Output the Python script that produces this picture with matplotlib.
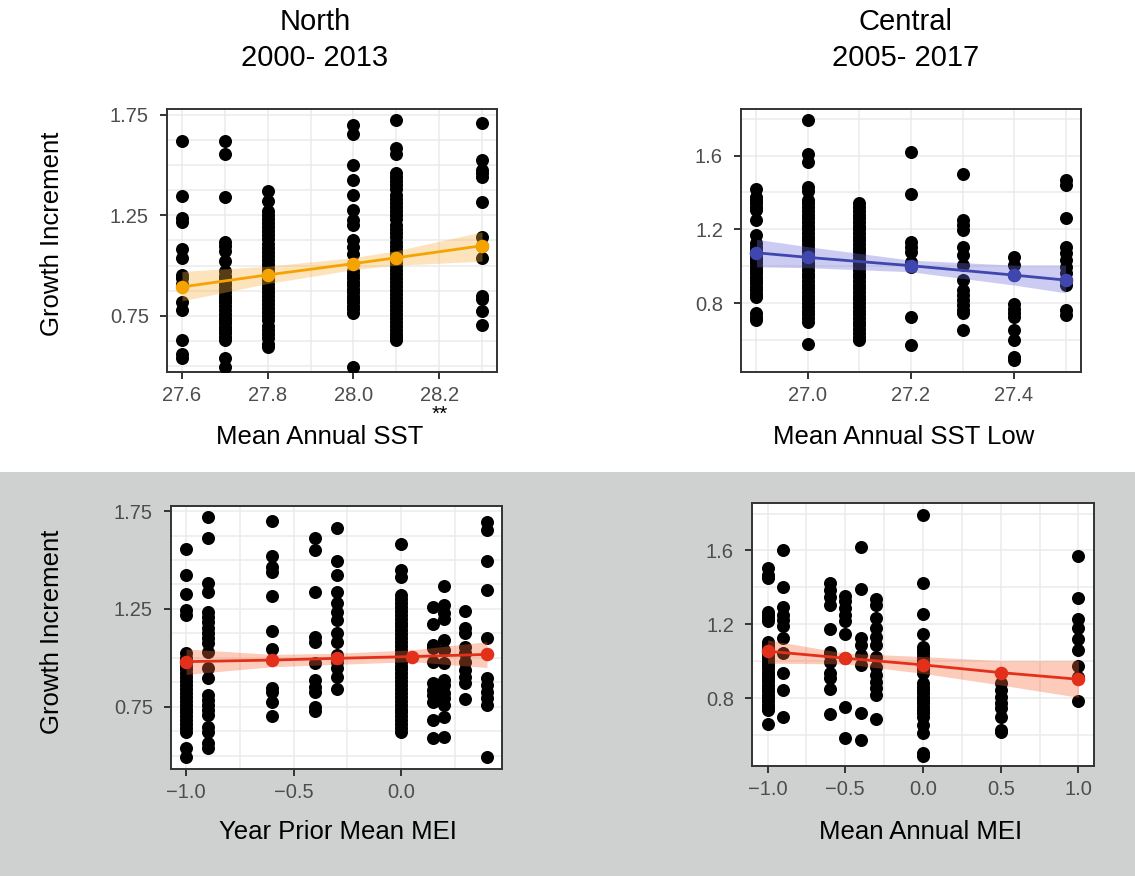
import matplotlib
matplotlib.use("Agg")
import matplotlib.pyplot as plt
from matplotlib.patches import Rectangle

plt.rcParams['font.family'] = ['Liberation Sans', 'DejaVu Sans']

W, H = 1135, 876

# --- North, mean annual SST ---
north_sst_x = [27.6, 27.7, 27.8, 28.0, 28.1, 28.3]
north_sst_growth = [
    [1.62, 1.344, 1.236, 1.219, 1.082, 1.039, 0.954, 0.937, 0.91, 0.817, 0.779, 0.628, 0.56, 0.54],
    [1.618, 1.557, 1.339, 1.116, 1.099, 1.074, 1.022, 0.971, 0.95, 0.937, 0.92, 0.902, 0.885, 0.868, 0.85,
     0.834, 0.817, 0.8, 0.78, 0.757, 0.74, 0.731, 0.715, 0.697, 0.68, 0.663, 0.645, 0.628, 0.543, 0.495],
    [1.373, 1.322, 1.27, 1.25, 1.23, 1.21, 1.19, 1.17, 1.15, 1.13, 1.11, 1.09, 1.07, 1.05, 1.03, 1.01,
     0.99, 0.97, 0.95, 0.93, 0.91, 0.89, 0.87, 0.85, 0.83, 0.81, 0.79, 0.77, 0.75, 0.73, 0.70, 0.68,
     0.66, 0.64, 0.61, 0.594],
    [1.699, 1.656, 1.502, 1.428, 1.351, 1.279, 1.228, 1.202, 1.125, 1.091, 1.057, 0.971, 0.954, 0.937,
     0.92, 0.902, 0.885, 0.868, 0.851, 0.834, 0.817, 0.8, 0.782, 0.765, 0.495],
    [1.724, 1.587, 1.553, 1.459, 1.44, 1.42, 1.40, 1.38, 1.35, 1.33, 1.31, 1.29, 1.27, 1.25, 1.23, 1.20,
     1.18, 1.16, 1.14, 1.12, 1.10, 1.08, 1.06, 1.04, 1.02, 1.0, 0.98, 0.96, 0.94, 0.92, 0.90, 0.88,
     0.86, 0.84, 0.82, 0.80, 0.78, 0.76, 0.74, 0.72, 0.70, 0.68, 0.66, 0.645, 0.628],
    [1.707, 1.527, 1.476, 1.459, 1.442, 1.317, 1.142, 1.099, 1.039, 0.851, 0.834, 0.774, 0.706],
]
north_fit_x = [27.6, 27.8, 28.0, 28.1, 28.3]
north_fit_y = [0.894, 0.954, 1.010, 1.039, 1.099]
north_fit_lo = [0.825, 0.911, 0.980, 1.002, 1.022]
north_fit_hi = [0.971, 0.997, 1.040, 1.074, 1.168]

# --- Central, mean annual SST low ---
central_sst_x = [26.9, 27.0, 27.1, 27.2, 27.3, 27.4, 27.5]
central_sst_growth = [
    [1.417, 1.377, 1.359, 1.341, 1.323, 1.305, 1.251, 1.169, 1.124, 1.106, 1.088, 1.07, 1.052, 1.033,
     1.015, 0.997, 0.979, 0.961, 0.943, 0.925, 0.907, 0.889, 0.871, 0.852, 0.834, 0.744, 0.726, 0.708],
    [1.794, 1.609, 1.567, 1.432, 1.405, 1.359, 1.34, 1.32, 1.30, 1.28, 1.26, 1.24, 1.22, 1.20, 1.18,
     1.16, 1.14, 1.12, 1.10, 1.08, 1.06, 1.04, 1.02, 1.00, 0.98, 0.96, 0.94, 0.92, 0.90, 0.88, 0.86,
     0.84, 0.82, 0.80, 0.78, 0.76, 0.74, 0.72, 0.699, 0.581],
    [1.341, 1.32, 1.30, 1.28, 1.26, 1.24, 1.22, 1.20, 1.18, 1.16, 1.14, 1.12, 1.10, 1.08, 1.06, 1.04,
     1.02, 1.00, 0.98, 0.96, 0.94, 0.92, 0.90, 0.88, 0.86, 0.84, 0.82, 0.80, 0.78, 0.76, 0.74, 0.72,
     0.70, 0.68, 0.66, 0.64, 0.617, 0.60],
    [1.618, 1.392, 1.133, 1.106, 1.079, 1.024, 0.997, 0.726, 0.572],
    [1.5, 1.251, 1.224, 1.196, 1.106, 1.061, 1.006, 0.925, 0.871, 0.843, 0.816, 0.789, 0.762, 0.744, 0.653],
    [1.052, 1.006, 0.952, 0.798, 0.771, 0.744, 0.726, 0.653, 0.6, 0.509, 0.491],
    [1.468, 1.441, 1.26, 1.106, 1.07, 1.033, 0.997, 0.961, 0.925, 0.898, 0.762, 0.735],
]
central_fit_x = [26.9, 27.0, 27.2, 27.4, 27.5]
central_fit_y = [1.073, 1.048, 1.003, 0.952, 0.925]
central_fit_lo = [0.997, 0.992, 0.970, 0.898, 0.856]
central_fit_hi = [1.146, 1.106, 1.033, 1.006, 1.006]

# --- North, year prior mean MEI ---
north_mei_x = [-1.0, -0.9, -0.6, -0.4, -0.3, 0.0, 0.15, 0.2, 0.3, 0.4]
north_mei_growth = [
    [1.556, 1.423, 1.324, 1.244, 1.219, 1.023, 1.0, 0.98, 0.96, 0.94, 0.92, 0.90, 0.88, 0.86, 0.84,
     0.82, 0.80, 0.78, 0.76, 0.74, 0.72, 0.70, 0.68, 0.66, 0.64, 0.622, 0.54, 0.494],
    [1.721, 1.614, 1.38, 1.338, 1.236, 1.21, 1.184, 1.15, 1.125, 1.099, 1.074, 1.031, 0.946, 0.895,
     0.81, 0.784, 0.758, 0.733, 0.707, 0.648, 0.622, 0.563, 0.537],
    [1.699, 1.522, 1.466, 1.44, 1.317, 1.137, 1.045, 0.847, 0.827, 0.772, 0.704],
    [1.61, 1.551, 1.334, 1.108, 1.082, 0.971, 0.886, 0.852, 0.827, 0.75, 0.728],
    [1.661, 1.496, 1.423, 1.338, 1.278, 1.236, 1.193, 1.125, 1.082, 1.014, 0.98, 0.946, 0.903, 0.84],
    [1.58, 1.448, 1.414, 1.321, 1.30, 1.28, 1.26, 1.24, 1.22, 1.20, 1.18, 1.16, 1.14, 1.12, 1.10,
     1.08, 1.06, 1.04, 1.02, 1.00, 0.98, 0.96, 0.94, 0.92, 0.90, 0.88, 0.86, 0.84, 0.82, 0.80, 0.78,
     0.76, 0.74, 0.72, 0.70, 0.68, 0.66, 0.64, 0.622],
    [1.261, 1.171, 1.065, 1.048, 0.98, 0.869, 0.835, 0.81, 0.776, 0.682, 0.588],
    [1.368, 1.27, 1.227, 1.198, 1.091, 1.04, 0.971, 0.886, 0.861, 0.818, 0.793, 0.758, 0.699, 0.597],
    [1.241, 1.15, 1.125, 1.057, 1.023, 0.98, 0.937, 0.903, 0.869, 0.789],
    [1.695, 1.653, 1.494, 1.346, 1.099, 0.895, 0.861, 0.827, 0.793, 0.758, 0.494],
]
north_mei_fit_x = [-1.0, -0.6, -0.3, 0.05, 0.4]
north_mei_fit_y = [0.980, 0.988, 0.997, 1.006, 1.017]
north_mei_fit_lo = [0.915, 0.954, 0.966, 0.980, 0.950]
north_mei_fit_hi = [1.045, 1.017, 1.023, 1.040, 1.082]

# --- Central, mean annual MEI ---
central_mei_x = [-1.0, -0.9, -0.6, -0.5, -0.4, -0.3, 0.0, 0.5, 1.0]
central_mei_growth = [
    [1.504, 1.468, 1.45, 1.269, 1.251, 1.233, 1.215, 1.106, 1.088, 1.07, 1.052, 1.034, 1.016, 0.998,
     0.98, 0.962, 0.944, 0.926, 0.908, 0.89, 0.872, 0.854, 0.836, 0.818, 0.8, 0.782, 0.764, 0.75,
     0.736, 0.658],
    [1.6, 1.4, 1.296, 1.251, 1.224, 1.188, 1.124, 1.043, 0.938, 0.844, 0.7],
    [1.423, 1.383, 1.35, 1.305, 1.173, 1.052, 1.034, 0.998, 0.935, 0.907, 0.85, 0.714],
    [1.354, 1.327, 1.287, 1.251, 1.215, 1.146, 1.016, 0.754, 0.582],
    [1.618, 1.392, 1.128, 1.088, 1.034, 0.98, 0.721, 0.573],
    [1.336, 1.305, 1.233, 1.179, 1.133, 1.088, 1.025, 0.971, 0.925, 0.889, 0.853, 0.817, 0.685],
    [1.793, 1.426, 1.256, 1.148, 1.079, 1.061, 1.043, 1.025, 1.007, 0.989, 0.971, 0.953, 0.935, 0.88,
     0.862, 0.844, 0.826, 0.808, 0.79, 0.772, 0.754, 0.736, 0.718, 0.7, 0.655, 0.61, 0.502, 0.488],
    [0.88, 0.844, 0.808, 0.772, 0.745, 0.7, 0.627, 0.618],
    [1.571, 1.341, 1.229, 1.179, 1.119, 1.058, 0.974, 0.916, 0.786],
]
central_mei_fit_x = [-1.0, -0.5, 0.0, 0.5, 1.0]
central_mei_fit_y = [1.054, 1.016, 0.980, 0.938, 0.902]
central_mei_fit_lo = [0.989, 0.985, 0.934, 0.871, 0.804]
central_mei_fit_hi = [1.115, 1.043, 1.025, 1.003, 1.003]

ORANGE = '#F5A300'
BLUE = '#3F46AE'
RED = '#E2301B'
TICK_GRAY = '#4d4d4d'
BORDER = '#333333'


def px_axes(fig, l, r, t, b):
    return fig.add_axes([l / W, 1 - b / H, (r - l) / W, (b - t) / H])


def panel(ax, xs, groups, fx, fy, flo, fhi, col, fill, xlim, ylim,
          xmaj, xmin, ymaj, ymin, xlabs, ylabs):
    for x, ys in zip(xs, groups):
        ax.scatter([x] * len(ys), ys, s=88, color='black', zorder=3, linewidths=0)
    ax.fill_between(fx, flo, fhi, color=fill, alpha=0.35, linewidth=0, zorder=4)
    ax.plot(fx, fy, color=col, lw=2.0, zorder=5)
    ax.scatter(fx, fy, s=95, color=col, zorder=6, linewidths=0)
    ax.set_xlim(*xlim)
    ax.set_ylim(*ylim)
    ax.set_xticks(xmaj)
    ax.set_xticklabels(xlabs)
    ax.set_xticks(xmin, minor=True)
    ax.set_yticks(ymaj)
    ax.set_yticklabels(ylabs)
    ax.set_yticks(ymin, minor=True)
    ax.grid(True, which='both', color='#ebebeb', lw=1.1, zorder=0)
    ax.set_axisbelow(True)
    ax.tick_params(which='major', length=5, width=1.4, color=BORDER,
                   labelsize=14.5, labelcolor=TICK_GRAY)
    ax.tick_params(axis='x', which='major', pad=5)
    ax.tick_params(axis='y', which='major', pad=8)
    ax.tick_params(which='minor', length=0)
    for sp in ax.spines.values():
        sp.set_color(BORDER)
        sp.set_linewidth(1.4)
    ax.set_facecolor('white')


fig = plt.figure(figsize=(W / 100, H / 100), dpi=100)
fig.patch.set_facecolor('white')
fig.add_artist(Rectangle((0, 0), 1, (H - 472) / H, transform=fig.transFigure,
                         facecolor='#cfd1d0', edgecolor='none', zorder=0))

y_fine_maj = [0.75, 1.25, 1.75]
y_fine_min = [0.5, 0.625, 0.875, 1.0, 1.125, 1.375, 1.5, 1.625]
y_fine_labs = ['0.75', '1.25', '1.75']
y_c_maj = [0.8, 1.2, 1.6]
y_c_min = [0.6, 1.0, 1.4, 1.8]
y_c_labs = ['0.8', '1.2', '1.6']

ax1 = px_axes(fig, 167, 497, 109, 372)
panel(ax1, north_sst_x, north_sst_growth, north_fit_x, north_fit_y, north_fit_lo, north_fit_hi,
      ORANGE, '#F8B040', (27.565, 28.335), (0.471, 1.779),
      [27.6, 27.8, 28.0, 28.2], [27.7, 27.9, 28.1, 28.3],
      y_fine_maj, y_fine_min, ['27.6', '27.8', '28.0', '28.2'], y_fine_labs)

ax2 = px_axes(fig, 741, 1081, 109, 372)
panel(ax2, central_sst_x, central_sst_growth, central_fit_x, central_fit_y, central_fit_lo,
      central_fit_hi, BLUE, '#6E6EDC', (26.87, 27.53), (0.427, 1.852),
      [27.0, 27.2, 27.4], [26.9, 27.1, 27.3, 27.5],
      y_c_maj, y_c_min, ['27.0', '27.2', '27.4'], y_c_labs)

ax3 = px_axes(fig, 171, 502, 506, 769)
panel(ax3, north_mei_x, north_mei_growth, north_mei_fit_x, north_mei_fit_y, north_mei_fit_lo,
      north_mei_fit_hi, RED, '#F86A3A', (-1.07, 0.47), (0.431, 1.776),
      [-1.0, -0.5, 0.0], [-0.75, -0.25, 0.25],
      y_fine_maj, y_fine_min, ['\u22121.0', '\u22120.5', '0.0'], y_fine_labs)

ax4 = px_axes(fig, 752, 1094, 503, 766)
panel(ax4, central_mei_x, central_mei_growth, central_mei_fit_x, central_mei_fit_y,
      central_mei_fit_lo, central_mei_fit_hi, RED, '#F86A3A', (-1.1, 1.1), (0.432, 1.857),
      [-1.0, -0.5, 0.0, 0.5, 1.0], [-0.75, -0.25, 0.25, 0.75],
      y_c_maj, y_c_min, ['\u22121.0', '\u22120.5', '0.0', '0.5', '1.0'], y_c_labs)


def ftext(x, y, s, **kw):
    fig.text(x / W, 1 - y / H, s, ha='center', va='center', **kw)


# titles
ftext(315, 22, 'North', fontsize=21)
ftext(315, 58, '2000- 2013', fontsize=21)
ftext(906, 22, 'Central', fontsize=21)
ftext(906, 58, '2005- 2017', fontsize=21)

# axis titles
ftext(52, 234, 'Growth Increment', fontsize=18.5, rotation=90)
ftext(52, 632, 'Growth Increment', fontsize=18.5, rotation=90)
ftext(320, 437, 'Mean Annual SST', fontsize=18.5)
fig.text(440 / W, 1 - 424 / H, '**', ha='center', va='bottom', fontsize=15)
ftext(904, 437, 'Mean Annual SST Low', fontsize=18.5)
ftext(338, 832, 'Year Prior Mean MEI', fontsize=18.5)
ftext(921, 832, 'Mean Annual MEI', fontsize=18.5)

fig.savefig('out.png', dpi=100)
